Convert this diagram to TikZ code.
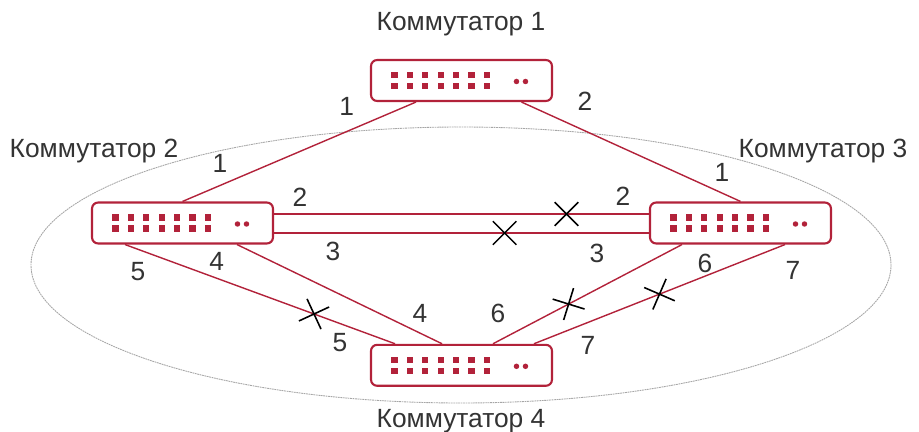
\documentclass[tikz,border=0pt]{standalone}
\usepackage{fontspec}
\setmainfont{Liberation Sans}
\usetikzlibrary{positioning,shapes.misc}
\definecolor{swred}{RGB}{178,34,58}
\definecolor{txt}{RGB}{51,51,51}

\begin{document}
\begin{tikzpicture}[
  x=0.02cm, y=-0.02cm,
  font=\fontsize{15}{18}\selectfont, text=txt,
  switch/.style={draw=swred, line width=1.2pt, rounded corners=3.5pt, inner sep=0pt,
    minimum width=3.62cm, minimum height=0.82cm, fill=white,
    path picture={
      \foreach \i in {0,...,6}
        \foreach \j in {0.0475cm,-0.1725cm}
          \fill[swred, sharp corners] ([shift={(-1.4025cm+\i*0.308cm,\j)}]path picture bounding box.center) rectangle ++(0.125cm,0.125cm);
      \fill[swred] ([xshift=1.1cm,yshift=-0.02cm]path picture bounding box.center) circle (0.055cm);
      \fill[swred] ([xshift=1.28cm,yshift=-0.02cm]path picture bounding box.center) circle (0.055cm);
    }},
  link/.style={draw=swred, line width=0.8pt},
  cut/.style={draw=black, cross out, line width=0.9pt, minimum size=0.44cm, inner sep=0pt, sloped},
  port/.style={inner sep=0pt},
  title/.style={anchor=base}
]
\useasboundingbox (0,0) rectangle (919,432);
\draw[gray!70, line width=0.5pt, dash pattern=on 1pt off 0.4pt] (461,265) ellipse [x radius=430, y radius=138];

\node[switch] (s1) at (461.5,80.5) {};
\node[switch] (s2) at (182.5,223) {};
\node[switch] (s3) at (740.5,223) {};
\node[switch] (s4) at (461.5,365.3) {};

\node[title] (t1) at (461,31) {Коммутатор 1};
\node[title] (t2) at (94,158) {Коммутатор 2};
\node[title] (t3) at (823,158) {Коммутатор 3};
\node[title] (t4) at (461,427) {Коммутатор 4};

\draw[link] ([xshift=-0.91cm]s1.south) -- (s2.north);
\draw[link] ([xshift=1.2cm]s1.south) -- (s3.north);
\draw[link] ([yshift=0.18cm]s2.east) -- node[cut, pos=0.78] (x1) {} ([yshift=0.18cm]s3.west);
\draw[link] ([yshift=-0.2cm]s2.east) -- node[cut, pos=0.615] (x2) {} ([yshift=-0.2cm]s3.west);
\draw[link] ([xshift=-1.15cm]s2.south) -- node[cut, pos=0.70] (x3) {} ([xshift=-1.33cm]s4.north);
\draw[link] ([xshift=1.09cm]s2.south) -- ([xshift=-0.39cm]s4.north);
\draw[link] ([xshift=-1.17cm]s3.south) -- node[cut, pos=0.60] (x4) {} ([xshift=0.63cm]s4.north);
\draw[link] ([xshift=0.89cm]s3.south) -- node[cut, pos=0.50] (x5) {} ([xshift=1.45cm]s4.north);

\node[port] (p11) at (346.7,106.7) {1};
\node[port] (p12) at (585,101.7) {2};
\node[port] (p21) at (220,163) {1};
\node[port] (p22) at (300,197) {2};
\node[port] (p23) at (333,251) {3};
\node[port] (p24) at (216.7,261.7) {4};
\node[port] (p25) at (138,272) {5};
\node[port] (p31) at (722,172) {1};
\node[port] (p32) at (623,196) {2};
\node[port] (p33) at (597,253) {3};
\node[port] (p36) at (705,263) {6};
\node[port] (p37) at (793,270) {7};
\node[port] (p44) at (420,313) {4};
\node[port] (p45) at (340,343) {5};
\node[port] (p46) at (498,313) {6};
\node[port] (p47) at (588,345) {7};
\end{tikzpicture}
\end{document}
